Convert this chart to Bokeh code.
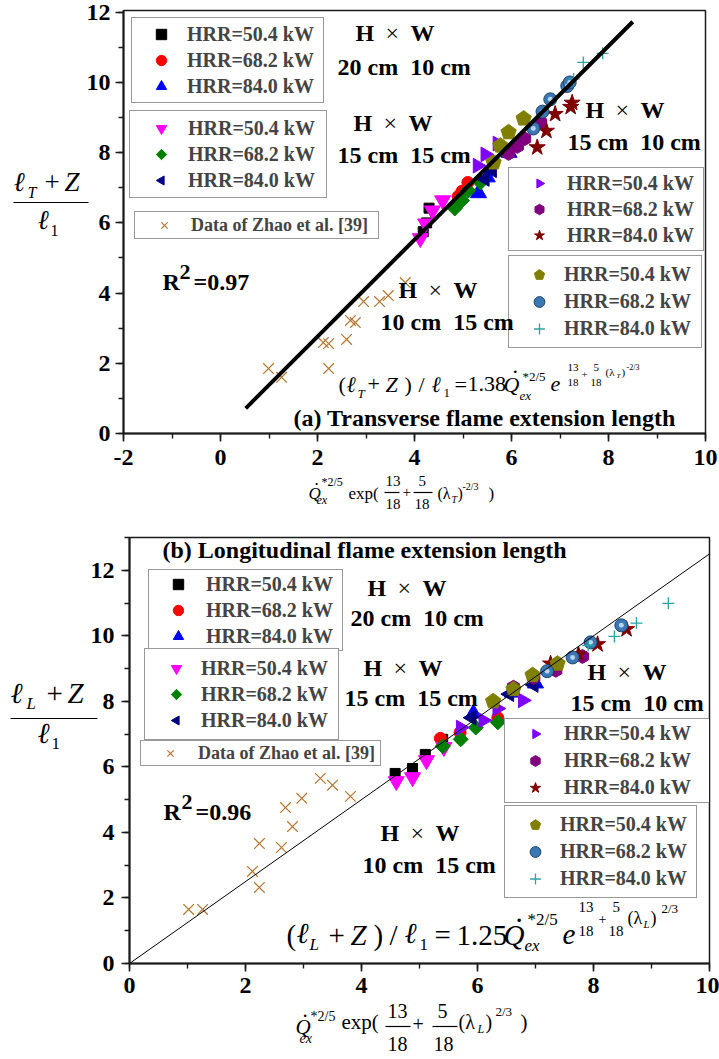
import numpy as np
from bokeh.plotting import figure
from bokeh.models import (Legend, LegendItem, SingleIntervalTicker, GridBox, Range1d,
                          ColumnDataSource)
from bokeh.core.properties import value, field
from bokeh.embed import file_html
from bokeh.resources import INLINE

FONT = "Liberation Serif"

# ---------------- shared labels ----------------
hrr_labels = ["HRR=50.4 kW", "HRR=68.2 kW", "HRR=84.0 kW"]
duct_h = ["20 cm", "15 cm", "15 cm", "10 cm"]
duct_w = ["10 cm", "15 cm", "10 cm", "15 cm"]
zhao_label = "Data of Zhao et al. [39]"

# ---------------- (a) transverse flame extension ----------------
a_coef = 1.38
a_r2 = "0.97"
a_fit_x = [0.52, 8.5]

a_zhao_x = [0.99, 1.26, 2.12, 2.23, 2.23, 2.60, 2.68, 2.78, 2.95, 3.28, 3.46, 3.81]
a_zhao_y = [1.85, 1.60, 2.59, 2.56, 1.85, 2.68, 3.22, 3.16, 3.76, 3.76, 3.93, 4.30]

a_20x10_50_x = [4.18, 4.25, 4.30]
a_20x10_50_y = [5.75, 6.00, 6.42]
a_20x10_68_x = [4.90, 4.98, 5.10]
a_20x10_68_y = [6.75, 6.90, 7.15]
a_20x10_84_x = [5.32, 5.50, 5.95]
a_20x10_84_y = [6.85, 7.30, 8.00]

a_15x15_50_x = [4.12, 4.23, 4.37, 4.58]
a_15x15_50_y = [5.56, 5.98, 6.35, 6.64]
a_15x15_68_x = [4.83, 4.98, 5.11, 5.36]
a_15x15_68_y = [6.41, 6.64, 6.92, 7.15]
a_15x15_84_x = [5.45, 5.60, 5.90]
a_15x15_84_y = [7.25, 7.50, 8.05]

a_15x10_50_x = [5.30, 5.46, 5.71]
a_15x10_50_y = [7.63, 7.95, 8.26]
a_15x10_68_x = [5.94, 6.12, 6.27, 6.60]
a_15x10_68_y = [7.98, 8.18, 8.40, 8.86]
a_15x10_84_x = [6.53, 6.72, 6.90, 7.22, 7.25]
a_15x10_84_y = [8.15, 8.62, 9.10, 9.30, 9.42]

a_10x15_50_x = [5.63, 5.77, 5.94, 6.25]
a_10x15_50_y = [7.72, 8.20, 8.58, 8.97]
a_10x15_68_x = [6.45, 6.64, 6.80, 7.15, 7.20]
a_10x15_68_y = [8.69, 9.17, 9.52, 9.90, 10.00]
a_10x15_84_x = [7.28, 7.48, 7.88]
a_10x15_84_y = [10.10, 10.57, 10.83]

# ---------------- (b) longitudinal flame extension ----------------
b_coef = 1.25
b_r2 = "0.96"
b_fit_x = [0.0, 10.0]

b_zhao_x = [1.02, 1.26, 2.12, 2.24, 2.24, 2.62, 2.69, 2.81, 2.97, 3.29, 3.50, 3.81]
b_zhao_y = [1.65, 1.65, 2.81, 3.66, 2.32, 3.54, 4.76, 4.18, 5.04, 5.65, 5.44, 5.10]

b_20x10_50_x = [4.58, 4.88, 5.10, 5.40]
b_20x10_50_y = [5.80, 5.95, 6.38, 6.84]
b_20x10_68_x = [5.36, 5.70, 6.35]
b_20x10_68_y = [6.87, 7.05, 7.50]
b_20x10_84_x = [5.93, 6.60, 7.00]
b_20x10_84_y = [7.63, 8.27, 8.55]

b_15x15_50_x = [4.60, 4.88, 5.12, 5.42]
b_15x15_50_y = [5.56, 5.68, 6.20, 6.60]
b_15x15_68_x = [5.40, 5.71, 5.97, 6.35]
b_15x15_68_y = [6.63, 6.84, 7.20, 7.36]
b_15x15_84_x = [5.90, 6.55, 6.97]
b_15x15_84_y = [7.50, 8.22, 8.50]

b_15x10_50_x = [5.71, 6.10, 6.34, 6.78]
b_15x10_50_y = [7.20, 7.42, 7.78, 8.03]
b_15x10_68_x = [6.62, 6.97, 7.35, 7.81]
b_15x10_68_y = [8.43, 8.73, 8.95, 9.37]
b_15x10_84_x = [7.26, 7.74, 8.07, 8.57]
b_15x10_84_y = [9.15, 9.43, 9.74, 10.20]

b_10x15_50_x = [6.27, 6.62, 6.95, 7.38]
b_10x15_50_y = [8.00, 8.37, 8.80, 9.15]
b_10x15_68_x = [7.20, 7.64, 7.95, 8.48]
b_10x15_68_y = [8.92, 9.34, 9.80, 10.32]
b_10x15_84_x = [7.91, 8.36, 8.74, 9.29]
b_10x15_84_y = [9.71, 9.98, 10.39, 10.99]

# marker style per series: (kind, colour, size, angle); ngon vertices start pointing up
STYLES = [
    ("square", "#000000", 10, 0.0),
    ("circle", "#ff0000", 12, 0.0),
    ("triangle", "#0000ff", 16, 0.0),
    ("inverted_triangle", "#ff00ff", 16, 0.0),
    ("ngon4", "#008000", 7.5, 0.0),          # diamond
    ("ngon3", "#000080", 8.5, np.pi / 2),    # pointing left
    ("ngon3", "#8000ff", 8.5, -np.pi / 2),   # pointing right
    ("ngon6", "#800080", 7, 0.0),            # hexagon
    ("star", "#800000", 17, 0.0),
    ("ngon5", "#808000", 8, 0.0),            # pentagon
    ("sphere", "#3b77b3", 13, 0.0),
    ("cross", "#2aa3a3", 12, 0.0),
]
ZHAO_COLOR = "#b5762f"


def draw_series(p, x, y, style):
    kind, color, size, ang = style
    if kind.startswith("ngon"):
        return p.ngon(x=x, y=y, radius=size, radius_units="screen", n=int(kind[-1]), angle=ang,
                      fill_color=color, line_color=color)
    if kind == "sphere":
        r = p.scatter(x, y, marker="circle", size=size, fill_color=color, line_color="#1d4670", line_width=1)
        p.scatter(x, y, marker="circle", size=size * 0.38, fill_color="#b9d5ee", line_color=None)
        return r
    if kind == "cross":
        return p.scatter(x, y, marker="cross", size=size, line_color=color, line_width=1.3)
    return p.scatter(x, y, marker=kind, size=size, fill_color=color, line_color=color)


def add_legend(p, fl, fb, renderers, labels, left, right, top, row1, mx, tx, font=20, item_h=26):
    """Boxed legend placed by canvas pixels of its outer box (left, right, top)."""
    pad = max(row1 - top - item_h // 2, 1)
    gw = 2 * (mx - left - pad)
    standoff = tx - (left + pad + gw)
    lw = right - pad - tx - 3
    h = 2 * pad + len(renderers) * item_h
    items = [LegendItem(label=l, renderers=[r]) for l, r in zip(labels, renderers)]
    p.add_layout(Legend(items=items, location=(left - fl, fb - (top + h) - 2), orientation="vertical",
                        padding=pad, spacing=0, margin=0, glyph_width=gw, glyph_height=item_h,
                        label_standoff=standoff, label_width=lw, label_height=item_h,
                        label_text_font=FONT, label_text_font_style="bold",
                        label_text_font_size=f"{font}px", border_line_color="#333333",
                        border_line_width=1.2, background_fill_color="white", background_fill_alpha=1.0))


def make_panel(height, x_range, y_range, borders, xs_standoff, ys_standoff):
    l, r, t, b = borders
    p = figure(width=719, height=height, x_range=x_range, y_range=y_range,
               output_backend="svg", toolbar_location=None,
               min_border_left=l, min_border_right=r, min_border_top=t, min_border_bottom=b)
    p.frame_align = False
    p.grid.visible = False
    p.outline_line_color = "#1a1a1a"
    p.outline_line_width = 1.5
    p.background_fill_color = "white"
    p.border_fill_color = "white"
    for ax in (p.xaxis[0], p.yaxis[0]):
        ax.ticker = SingleIntervalTicker(interval=2, num_minor_ticks=2)
        ax.axis_line_width = 2
        ax.axis_line_color = "#1a1a1a"
        ax.major_tick_line_color = "#1a1a1a"
        ax.major_tick_line_width = 1.6
        ax.major_tick_in = 0
        ax.major_tick_out = 8
        ax.minor_tick_line_color = "#1a1a1a"
        ax.minor_tick_line_width = 1.4
        ax.minor_tick_in = 0
        ax.minor_tick_out = 5
        ax.major_label_text_font = FONT
        ax.major_label_text_font_style = "bold"
        ax.major_label_text_font_size = "24px"
        ax.major_label_text_color = "black"
    p.xaxis.major_label_standoff = xs_standoff
    p.yaxis.major_label_standoff = ys_standoff
    p.xaxis.major_label_overrides = {-2: "-2"}
    return p


# =============================== panel (a) ===============================
pa = make_panel(528, (-2, 10), (0, 12.05), (123, 14, 10, 95), 8, 5)
FL, FB = 123, 433

pa.scatter(a_zhao_x, a_zhao_y, marker="x", size=15, line_color=ZHAO_COLOR, line_width=1.2)
r_zhao_a = pa.renderers[-1]
a_series = [
    (a_20x10_50_x, a_20x10_50_y), (a_20x10_68_x, a_20x10_68_y), (a_20x10_84_x, a_20x10_84_y),
    (a_15x15_50_x, a_15x15_50_y), (a_15x15_68_x, a_15x15_68_y), (a_15x15_84_x, a_15x15_84_y),
    (a_15x10_50_x, a_15x10_50_y), (a_15x10_68_x, a_15x10_68_y), (a_15x10_84_x, a_15x10_84_y),
    (a_10x15_50_x, a_10x15_50_y), (a_10x15_68_x, a_10x15_68_y), (a_10x15_84_x, a_10x15_84_y),
]
ra = [draw_series(pa, x, y, s) for (x, y), s in zip(a_series, STYLES)]
fx = np.array(a_fit_x)
pa.line(fx, a_coef * fx, line_width=4, line_color="black")

add_legend(pa, FL, FB, ra[0:3], hrr_labels, 131, 324, 17, 33, 160, 185)
add_legend(pa, FL, FB, ra[3:6], hrr_labels, 129, 325, 110, 127, 160, 184)
add_legend(pa, FL, FB, [r_zhao_a], [zhao_label], 134, 380, 211, 224, 163, 190, font=18, item_h=22)
add_legend(pa, FL, FB, ra[6:9], hrr_labels, 508, 701, 167, 182, 538, 562)
add_legend(pa, FL, FB, ra[9:12], hrr_labels, 508, 702, 255, 273, 538, 562, item_h=27)

# =============================== panel (b) ===============================
pb = make_panel(530, (0, 10), (0, 13), (129, 10, 9, 95), 6, 7)
OY = 528  # canvas offset of the lower panel
FL, FB = 129, 963 - OY

pb.scatter(b_zhao_x, b_zhao_y, marker="x", size=15, line_color=ZHAO_COLOR, line_width=1.2)
r_zhao_b = pb.renderers[-1]
b_series = [
    (b_20x10_50_x, b_20x10_50_y), (b_20x10_68_x, b_20x10_68_y), (b_20x10_84_x, b_20x10_84_y),
    (b_15x15_50_x, b_15x15_50_y), (b_15x15_68_x, b_15x15_68_y), (b_15x15_84_x, b_15x15_84_y),
    (b_15x10_50_x, b_15x10_50_y), (b_15x10_68_x, b_15x10_68_y), (b_15x10_84_x, b_15x10_84_y),
    (b_10x15_50_x, b_10x15_50_y), (b_10x15_68_x, b_10x15_68_y), (b_10x15_84_x, b_10x15_84_y),
]
rb = [draw_series(pb, x, y, s) for (x, y), s in zip(b_series, STYLES)]
fx = np.array(b_fit_x)
pb.line(fx, b_coef * fx, line_width=1, line_color="black")

add_legend(pb, FL, FB, rb[0:3], hrr_labels, 148, 340, 569 - OY, 583 - OY, 177, 201)
add_legend(pb, FL, FB, rb[3:6], hrr_labels, 144, 339, 648 - OY, 667 - OY, 175, 199)
add_legend(pb, FL, FB, [r_zhao_b], [zhao_label], 140, 380, 740 - OY, 752 - OY, 169, 195, font=18, item_h=22)
add_legend(pb, FL, FB, rb[6:9], hrr_labels, 504, 707, 718 - OY, 732 - OY, 534, 559, item_h=27)
add_legend(pb, FL, FB, rb[9:12], hrr_labels, 504, 697, 805 - OY, 823 - OY, 534, 558, item_h=27)

# =================== text layer (page pixel coordinates) ===================
NB = " \u00a0"  # wide gap that survives whitespace collapsing
BASE_SHIFT = 0.42  # renderer places the alphabetic baseline ~0.42 em below the anchor
T = []      # (x, anchor y, text, size px, style)
BARS = []   # fraction bars: (x0, x1, y, width)


def t(x, y, s, size, style="normal"):
    T.append((x, y - BASE_SHIFT * size, s, size, style))


def hw(x, y):
    t(x, y, "H", 24, "bold")
    t(x + 30, y, "×", 24)
    t(x + 55, y, "W", 24, "bold")


# --- panel (a) annotations ---
for (hx, hy, sx, sy), h, w in zip([(355, 43, 337, 77), (353, 133, 337, 165),
                                   (585, 120, 567, 152), (398, 300, 380, 332)], duct_h, duct_w):
    hw(hx, hy)
    t(sx, sy, f"{h}{NB}{w}", 24, "bold")
t(162, 292, "R", 24, "bold")
t(179, 281, "2", 22, "bold")
t(193, 292, "=" + a_r2, 24, "bold")
t(293, 428, "(a) Transverse flame extension length", 24, "bold")

t(338, 393, "(", 22)
t(346, 393, "ℓ", 22, "italic")
t(357, 398, "T", 13, "italic")
t(367, 393, "+", 22)
t(385, 393, "Z", 22, "italic")
t(404, 393, ")", 22)
t(418, 393, "/", 22)
t(431, 393, "ℓ", 22, "italic")
t(443, 398, "1", 13)
t(454, 393, "=", 22)
t(467, 393, f"{a_coef:.2f}", 22)
t(503, 393, "Q", 22, "italic")
t(512, 375, ".", 22)
t(522, 381, "*2/5", 13)
t(519, 400, "ex", 13, "italic")
t(550, 393, "e", 22, "italic")
t(567, 372, "13", 11)
t(567, 387, "18", 11)
t(581, 379, "+", 11)
t(593, 372, "5", 11)
t(590, 387, "18", 11)
t(605, 376, "(λ", 11)
t(616, 378, "T", 7, "italic")
t(621, 376, ")", 11)
t(626, 370, "-2/3", 8)

t(13, 193, "ℓ", 27, "italic")
t(27, 199, "T", 16, "italic")
t(44, 193, "+", 27)
t(64, 193, "Z", 27, "italic")
BARS.append((13, 88, 202, 1.3))
t(37, 231, "ℓ", 27, "italic")
t(50, 237, "1", 16)

t(308, 500, "Q", 17, "italic")
t(314, 486, ".", 17)
t(321, 487, "*2/5", 12)
t(316, 505, "ex", 12, "italic")
t(348, 500, "exp(", 17)
t(385, 487, "13", 15)
BARS.append((384, 399, 492, 1.0))
t(385, 510, "18", 15)
t(402, 498, "+", 15)
t(418, 487, "5", 15)
BARS.append((413, 432, 492, 1.0))
t(414, 510, "18", 15)
t(437, 500, "(λ", 16)
t(451, 503, "T", 10, "italic")
t(457, 500, ")", 16)
t(462, 490, "-2/3", 10)
t(488, 500, ")", 17)

# --- panel (b) annotations ---
for (hx, hy, sx, sy), h, w in zip([(367, 598, 350, 628), (363, 678, 344, 708),
                                   (587, 682, 570, 713), (380, 843, 362, 875)], duct_h, duct_w):
    hw(hx, hy)
    t(sx, sy, f"{h}{NB}{w}", 24, "bold")
t(163, 822, "R", 24, "bold")
t(181, 811, "2", 22, "bold")
t(195, 822, "=" + b_r2, 24, "bold")
t(162, 560, "(b) Longitudinal flame extension length", 24, "bold")

t(286, 947, "(", 29)
t(296, 945, "ℓ", 29, "italic")
t(309, 951, "L", 17, "italic")
t(328, 947, "+", 29)
t(350, 947, "Z", 29, "italic")
t(373, 947, ")", 29)
t(389, 947, "/", 29)
t(404, 945, "ℓ", 29, "italic")
t(419, 951, "1", 17)
t(434, 947, "=", 29)
t(456, 947, f"{b_coef:.2f}", 29)
t(503, 947, "Q", 29, "italic")
t(515, 924, ".", 29)
t(527, 926, "*2/5", 17)
t(524, 952, "ex", 17, "italic")
t(562, 946, "e", 29, "italic")
t(578, 913, "13", 15)
t(578, 937, "18", 15)
t(598, 924, "+", 14)
t(612, 913, "5", 15)
t(608, 937, "18", 15)
t(627, 925, "(λ", 18)
t(643, 928, "L", 11, "italic")
t(650, 925, ")", 18)
t(661, 913, "2/3", 13)

t(10, 705, "ℓ", 29, "italic")
t(26, 710, "L", 17, "italic")
t(46, 705, "+", 29)
t(67, 705, "Z", 29, "italic")
BARS.append((10, 97, 718, 1.3))
t(37, 745, "ℓ", 29, "italic")
t(51, 750, "1", 17)

t(295, 1035, "Q", 21, "italic")
t(302, 1018, ".", 21)
t(310, 1022, "*2/5", 14)
t(299, 1044, "ex", 14, "italic")
t(341, 1030, "exp(", 21)
t(387, 1019, "13", 20)
BARS.append((385, 410, 1026, 1.1))
t(387, 1052, "18", 20)
t(412, 1032, "+", 20)
t(437, 1019, "5", 20)
BARS.append((432, 457, 1026, 1.1))
t(433, 1052, "18", 20)
t(458, 1030, "(λ", 20)
t(477, 1034, "L", 12, "italic")
t(485, 1030, ")", 20)
t(495, 1016, "2/3", 13)
t(520, 1030, ")", 21)

ov = figure(width=719, height=1058, x_range=Range1d(0, 719), y_range=Range1d(1058, 0),
            x_axis_type=None, y_axis_type=None, toolbar_location=None, output_backend="svg",
            min_border=0)
ov.frame_align = False
ov.outline_line_color = None
ov.background_fill_color = None
ov.border_fill_color = None
ov.grid.visible = False

src = ColumnDataSource(dict(x=[r[0] for r in T], y=[r[1] for r in T], s=[r[2] for r in T],
                            fs=[f"{r[3]}px" for r in T], st=[r[4] for r in T]))
ov.text(x="x", y="y", text="s", source=src, text_font=value(FONT), text_font_size=field("fs"),
        text_font_style=field("st"), text_align="left", text_baseline="alphabetic", text_color="black")
ov.segment(x0=[b[0] for b in BARS], x1=[b[1] for b in BARS], y0=[b[2] for b in BARS],
           y1=[b[2] for b in BARS], line_color="black", line_width=1.2)

layout = GridBox(children=[(pa, 0, 0), (pb, 1, 0), (ov, 0, 0, 2, 1)], spacing=0)
open("out.html", "w").write(file_html(layout, INLINE))
